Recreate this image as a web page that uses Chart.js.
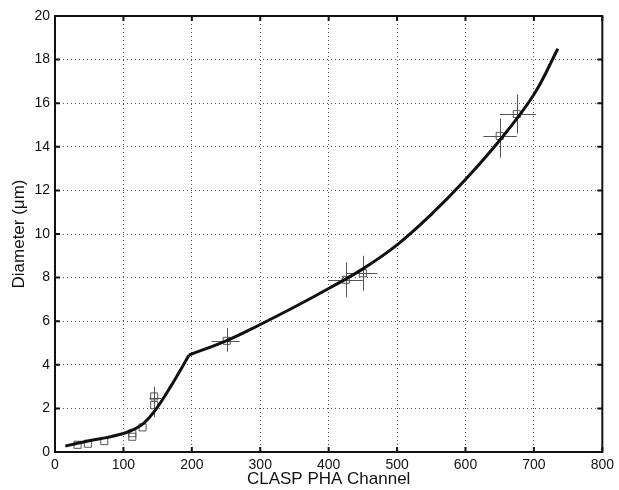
<!DOCTYPE html>
<html>
<head>
<meta charset="utf-8">
<script src="https://cdn.jsdelivr.net/npm/chart.js@4/dist/chart.umd.min.js"></script>
<style>
  html, body { margin: 0; padding: 0; background: #fff; }
  canvas { display: block; }
</style>
</head>
<body>
<canvas id="chart" width="619" height="490"></canvas>
<script>
// calibration curve, two pieces (kink near channel 196)
const curveLowX = [15, 30, 50, 75, 100, 116, 130, 145, 169, 196];
const curveLowY = [0.27, 0.38, 0.52, 0.66, 0.85, 1.05, 1.33, 1.85, 3.0, 4.45];
const curveHighX = [196, 250, 300, 350, 400, 450, 500, 550, 600, 650, 700, 735];
const curveHighY = [4.45, 5.1, 5.85, 6.65, 7.5, 8.4, 9.5, 10.9, 12.5, 14.3, 16.4, 18.5];

// measured points (squares)
const markX = [33, 48, 72, 113, 113, 128, 145, 145, 251, 425, 450, 650, 675];
const markY = [0.33, 0.38, 0.5, 0.7, 0.86, 1.13, 2.15, 2.55, 5.1, 7.9, 8.2, 14.5, 15.5];

// error bars
const barX = [145, 251, 425, 450, 650, 675];
const barY = [2.5, 5.1, 7.9, 8.2, 14.5, 15.5];
const barXLow = [138, 229, 400, 425, 626, 650];
const barXHigh = [155, 270, 450, 471, 675, 703];
const barYLow = [1.6, 4.6, 7.1, 7.4, 13.5, 14.6];
const barYHigh = [3.0, 5.7, 8.7, 9.0, 15.3, 16.4];

const xTicks = [0, 100, 200, 300, 400, 500, 600, 700, 800];
const yTicks = [0, 2, 4, 6, 8, 10, 12, 14, 16, 18, 20];

const toPts = (xs, ys) => xs.map((x, i) => ({ x: x, y: ys[i] }));

const FONT = "'Liberation Sans', Arial, Helvetica, sans-serif";

// error bars drawn under the curve
const errorBars = {
  id: "errorBars",
  beforeDatasetsDraw(chart) {
    const { ctx, scales: { x, y } } = chart;
    ctx.save();
    ctx.strokeStyle = "#555";
    ctx.lineWidth = 1;
    ctx.beginPath();
    barX.forEach((bx, i) => {
      const px = Math.round(x.getPixelForValue(bx)) + 0.5;
      const py = Math.round(y.getPixelForValue(barY[i])) + 0.5;
      ctx.moveTo(px, y.getPixelForValue(barYLow[i]));
      ctx.lineTo(px, y.getPixelForValue(barYHigh[i]));
      ctx.moveTo(x.getPixelForValue(barXLow[i]), py);
      ctx.lineTo(x.getPixelForValue(barXHigh[i]), py);
    });
    ctx.stroke();
    ctx.restore();
  }
};

// box frame with inward ticks on all sides
const frame = {
  id: "frame",
  afterDraw(chart) {
    const { ctx, chartArea: a, scales: { x, y } } = chart;
    const tl = 5;
    ctx.save();
    ctx.strokeStyle = "#111";
    ctx.lineWidth = 2;
    ctx.strokeRect(a.left, a.top, a.right - a.left, a.bottom - a.top);
    ctx.beginPath();
    xTicks.forEach(v => {
      const px = x.getPixelForValue(v);
      ctx.moveTo(px, a.bottom); ctx.lineTo(px, a.bottom - tl);
      ctx.moveTo(px, a.top); ctx.lineTo(px, a.top + tl);
    });
    yTicks.forEach(v => {
      const py = y.getPixelForValue(v);
      ctx.moveTo(a.left, py); ctx.lineTo(a.left + tl, py);
      ctx.moveTo(a.right, py); ctx.lineTo(a.right - tl, py);
    });
    ctx.stroke();
    ctx.restore();
  }
};

new Chart(document.getElementById("chart").getContext("2d"), {
  data: {
    datasets: [
      {
        type: "line",
        data: toPts(curveLowX, curveLowY),
        borderColor: "#111",
        borderWidth: 3,
        pointRadius: 0,
        tension: 0.4,
        fill: false
      },
      {
        type: "line",
        data: toPts(curveHighX, curveHighY),
        borderColor: "#111",
        borderWidth: 3,
        pointRadius: 0,
        tension: 0.4,
        fill: false
      },
      {
        type: "scatter",
        data: toPts(markX, markY),
        pointStyle: "rect",
        pointRadius: 5,
        borderColor: "#555",
        borderWidth: 1,
        backgroundColor: "rgba(0,0,0,0)"
      }
    ]
  },
  options: {
    responsive: false,
    animation: false,
    layout: { padding: { top: 16, right: 12, left: 0, bottom: 0 } },
    plugins: { legend: { display: false }, tooltip: { enabled: false } },
    scales: {
      x: {
        type: "linear",
        min: 0, max: 800,
        afterBuildTicks: s => { s.ticks = xTicks.map(v => ({ value: v })); },
        afterFit: s => { s.height = 38; },
        grid: { color: "#555", lineWidth: 1, drawTicks: false },
        border: { display: false, dash: [1, 3] },
        ticks: { color: "#111", padding: 5, font: { family: FONT, size: 14 }, maxRotation: 0 },
        title: { display: true, text: "CLASP PHA Channel", color: "#111", padding: { top: 0, bottom: 0 }, font: { family: FONT, size: 17 } }
      },
      y: {
        type: "linear",
        min: 0, max: 20,
        afterBuildTicks: s => { s.ticks = yTicks.map(v => ({ value: v })); },
        afterFit: s => { s.width = 55; },
        grid: { color: "#555", lineWidth: 1, drawTicks: false },
        border: { display: false, dash: [1, 3] },
        ticks: { color: "#111", padding: 5, font: { family: FONT, size: 14 } },
        title: { display: true, text: "Diameter (μm)", color: "#111", padding: { top: 9, bottom: 0 }, font: { family: FONT, size: 17 } }
      }
    }
  },
  plugins: [errorBars, frame]
});
</script>
</body>
</html>
